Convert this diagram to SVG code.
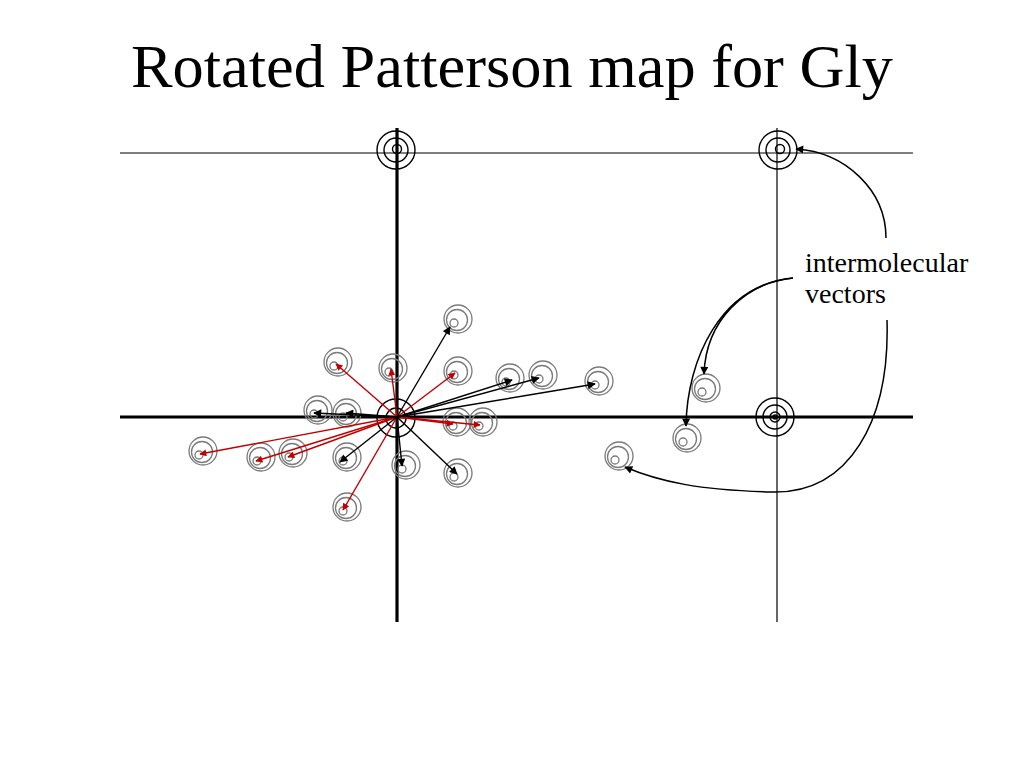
<svg xmlns="http://www.w3.org/2000/svg" xmlns:xlink="http://www.w3.org/1999/xlink" width="1024" height="768" viewBox="0 0 1024 768">
<style>
.title{font-family:"Liberation Serif","Times New Roman",serif;font-size:62px;fill:#000}
.lbl{font-family:"Liberation Serif","Times New Roman",serif;font-size:28px;fill:#000}
.thin{stroke:#000;stroke-width:1.2;fill:none}
.thick{stroke:#000;stroke-width:3.2;fill:none}
.ring{stroke:#000;stroke-width:1.4;fill:none}
.pk{stroke:#7a7a7a;stroke-width:1.3;fill:none}
.red{stroke:#c00000;stroke-width:1.4;fill:none;marker-end:url(#ahR)}
.blk{stroke:#000;stroke-width:1.4;fill:none;marker-end:url(#ahK)}
.cur{stroke:#000;stroke-width:1.5;fill:none;marker-end:url(#ahK)}
</style>
<defs>
<marker id="ahR" viewBox="0 0 10 10" refX="9" refY="5" markerWidth="8" markerHeight="7" markerUnits="userSpaceOnUse" orient="auto"><path d="M0,0 L10,5 L0,10 Z" fill="#c00000"/></marker>
<marker id="ahK" viewBox="0 0 10 10" refX="9" refY="5" markerWidth="10" markerHeight="8" markerUnits="userSpaceOnUse" orient="auto"><path d="M0,0 L10,5 L0,10 Z" fill="#000"/></marker>
<g id="peak"><circle r="14" class="pk"/><circle cx="-1" cy="1" r="10.5" class="pk"/><circle cx="-4" cy="4" r="4" class="pk"/></g>
</defs>
<rect width="1024" height="768" fill="#fff"/>
<text class="title" x="131" y="87" textLength="762" lengthAdjust="spacingAndGlyphs">Rotated Patterson map for Gly</text>
<g id="axes">
<line class="thin" x1="120" y1="153" x2="913" y2="153"/>
<line class="thin" x1="777" y1="128" x2="777" y2="622"/>
<line class="thick" x1="120" y1="417" x2="913" y2="417"/>
<line class="thick" x1="397" y1="128" x2="397" y2="622"/>
</g>
<g id="origin-top-left"><circle cx="396" cy="150" r="19" class="ring"/><circle cx="396" cy="150" r="12" class="ring"/><circle cx="397" cy="149" r="4.5" class="ring"/></g>
<g id="origin-top-right"><circle cx="778" cy="150" r="19" class="ring"/><circle cx="778" cy="150" r="12" class="ring"/><circle cx="780" cy="149" r="4.5" class="ring"/></g>
<g id="origin-right"><circle cx="775" cy="417" r="19" class="ring"/><circle cx="775" cy="417" r="12" class="ring"/><circle cx="775" cy="417" r="5" class="ring"/><circle cx="775" cy="417" r="2" class="ring"/></g>
<g id="origin-center"><circle cx="396" cy="418" r="19" class="ring"/><circle cx="396" cy="418" r="10" class="ring"/></g>
<g id="peaks">
<use xlink:href="#peak" x="338" y="362"/>
<use xlink:href="#peak" x="393" y="368"/>
<use xlink:href="#peak" x="318" y="410"/>
<use xlink:href="#peak" x="347" y="413"/>
<use xlink:href="#peak" x="203" y="451"/>
<use xlink:href="#peak" x="261" y="457"/>
<use xlink:href="#peak" x="293" y="453"/>
<use xlink:href="#peak" x="347" y="457"/>
<use xlink:href="#peak" x="406" y="465"/>
<use xlink:href="#peak" x="347" y="507"/>
<use xlink:href="#peak" x="458" y="319"/>
<use xlink:href="#peak" x="458" y="371"/>
<use xlink:href="#peak" x="510" y="378"/>
<use xlink:href="#peak" x="543" y="375"/>
<use xlink:href="#peak" x="599" y="381"/>
<use xlink:href="#peak" x="457" y="422"/>
<use xlink:href="#peak" x="483" y="422"/>
<use xlink:href="#peak" x="458" y="473"/>
<use xlink:href="#peak" x="619" y="456"/>
<use xlink:href="#peak" x="706" y="388"/>
<use xlink:href="#peak" x="687" y="438"/>
</g>
<g id="connectors">
<line class="red" x1="397" y1="417" x2="336" y2="364"/>
<line class="red" x1="397" y1="417" x2="391" y2="369"/>
<line class="red" x1="397" y1="417" x2="455" y2="373"/>
<line class="red" x1="397" y1="417" x2="453" y2="424"/>
<line class="red" x1="397" y1="417" x2="480" y2="425"/>
<line class="red" x1="397" y1="417" x2="200" y2="454"/>
<line class="red" x1="397" y1="417" x2="256" y2="461"/>
<line class="red" x1="397" y1="417" x2="288" y2="457"/>
<line class="red" x1="397" y1="417" x2="343" y2="510"/>
<line class="blk" x1="397" y1="417" x2="450" y2="327"/>
<line class="blk" x1="397" y1="417" x2="512" y2="380"/>
<line class="blk" x1="397" y1="417" x2="539" y2="378"/>
<line class="blk" x1="397" y1="417" x2="595" y2="384"/>
<line class="blk" x1="397" y1="417" x2="402" y2="466"/>
<line class="blk" x1="397" y1="417" x2="457" y2="474"/>
<line class="blk" x1="397" y1="417" x2="314" y2="413"/>
<line class="blk" x1="397" y1="417" x2="346" y2="413"/>
<line class="blk" x1="397" y1="417" x2="340" y2="462"/>
<path class="cur" d="M886,238 C886,190 845,152 796,149"/>
<path class="cur" d="M793,278 C745,283 706,320 704,374"/>
<path class="cur" d="M793,278 C720,285 687,360 686,426"/>
<path class="cur" d="M887,320 C890,420 850,495 770,492 C700,490 660,482 625,467"/>
</g>
<g id="label">
<text class="lbl" x="805" y="272">intermolecular</text>
<text class="lbl" x="805" y="303">vectors</text>
</g>
</svg>
